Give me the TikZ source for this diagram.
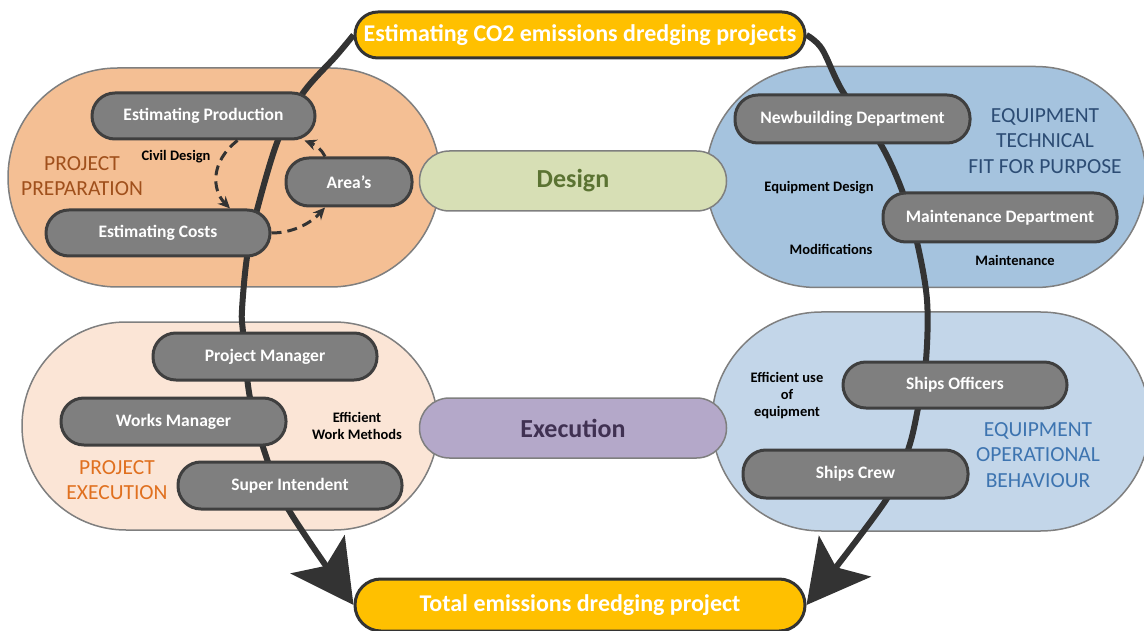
\documentclass[tikz,border=0pt]{standalone}
\usepackage{fontspec}
\setmainfont{Carlito}
\usetikzlibrary{arrows.meta}
\pgfdeclarelayer{bg}
\pgfdeclarelayer{mid}
\pgfsetlayers{bg,mid,main}

\definecolor{goldfill}{HTML}{FFC000}
\definecolor{prepfill}{HTML}{F4BF94}
\definecolor{techfill}{HTML}{A5C3DE}
\definecolor{execfill}{HTML}{FBE5D6}
\definecolor{operfill}{HTML}{C3D6E9}
\definecolor{designfill}{HTML}{D7DFB5}
\definecolor{exfill}{HTML}{B4A8C9}
\definecolor{rolefill}{HTML}{7F7F7F}
\definecolor{roleline}{HTML}{3F3F3F}
\definecolor{flow}{HTML}{333333}
\definecolor{zoneline}{HTML}{7F7F7F}
\definecolor{preptext}{HTML}{A0501C}
\definecolor{exectext}{HTML}{E0701F}
\definecolor{techtext}{HTML}{2C4C74}
\definecolor{opertext}{HTML}{3D74B0}
\definecolor{designtext}{HTML}{5B7332}
\definecolor{extext}{HTML}{403152}

\tikzset{
  zone/.style={rectangle, draw=zoneline, line width=1.5pt, inner sep=0pt},
  role/.style={rectangle, rounded corners=22.9pt, fill=rolefill, draw=roleline,
    line width=3pt, text=white, inner sep=0pt, minimum height=46pt,
    font=\bfseries\fontsize{17.5}{20}\selectfont},
  headline/.style={rectangle, rounded corners=22.9pt, fill=goldfill, draw=flow,
    line width=3pt, text=white, inner sep=0pt, minimum height=46pt,
    minimum width=450pt, font=\bfseries\fontsize{24}{28}\selectfont},
  phase/.style={rectangle, rounded corners=29.9pt, draw=zoneline, line width=1.5pt,
    inner sep=0pt, minimum width=307pt, minimum height=60pt,
    font=\bfseries\fontsize{26}{30}\selectfont},
  note/.style={align=center, text=black, inner sep=0pt,
    font=\bfseries\fontsize{14.5}{17}\selectfont},
  zonetitle/.style={align=center, inner sep=0pt,
    font=\fontsize{21.5}{25.5}\selectfont},
  flowline/.style={draw=flow, line width=6pt,
    -{Stealth[length=62pt, width=66pt, inset=14pt]}},
  dasharrow/.style={draw=flow, line width=3pt, dash pattern=on 10pt off 6pt,
    -{Stealth[length=12pt, width=11pt]}}
}

\begin{document}
\begin{tikzpicture}[x=1pt, y=-1pt]
\useasboundingbox (0,0) rectangle (1144,631);

% four working areas
\begin{pgfonlayer}{bg}
  \node[zone, fill=prepfill, rounded corners=109.4pt, minimum width=432pt, minimum height=219pt] (prep) at (224,177.5) {};
  \node[zone, fill=techfill, rounded corners=110.4pt, minimum width=440pt, minimum height=221pt] (tech) at (926,177) {};
  \node[zone, fill=execfill, rounded corners=103.9pt, minimum width=416pt, minimum height=208pt] (exec) at (230,426) {};
  \node[zone, fill=operfill, rounded corners=109.4pt, minimum width=438pt, minimum height=219pt] (oper) at (931,421.5) {};
  \node[phase, fill=designfill, text=designtext] (design) at (573,181) {Design};
  \node[phase, fill=exfill, text=extext] (execution) at (573,428) {Execution};
\end{pgfonlayer}

% start and end
\node[headline] (start) at (580,35) {Estimating CO2 emissions dredging projects};
\node[headline, minimum height=52pt, rounded corners=25.9pt] (total) at (580,605) {Total emissions dredging project};

% roles
\node[role, minimum width=223pt] (prod) at (203.5,116) {Estimating Production};
\node[role, minimum width=126pt, minimum height=48pt] (area) at (349,182) {Area’s};
\node[role, minimum width=224pt] (cost) at (158,233) {Estimating Costs};
\node[role, minimum width=235pt, minimum height=48pt] (newb) at (852.5,119) {Newbuilding Department};
\node[role, minimum width=234pt, minimum height=49pt] (maint) at (1000,217.5) {Maintenance Department};
\node[role, minimum width=224pt, minimum height=47pt] (pm) at (265,356.5) {Project Manager};
\node[role, minimum width=225pt, minimum height=47pt] (wm) at (173.5,421.5) {Works Manager};
\node[role, minimum width=224pt, minimum height=47pt] (si) at (290,485.5) {Super Intendent};
\node[role, minimum width=224pt] (so) at (955,385) {Ships Officers};
\node[role, minimum width=225pt, minimum height=48pt] (crew) at (855.5,474) {Ships Crew};

% main flow from estimate to total
\begin{pgfonlayer}{mid}
  \draw[flowline] plot[smooth, tension=0.55] coordinates {
    (start.west) (336,56) (303,93) (278,140) (257,210) (247,257) (242,310)
    (243,332) (250,398) (268,462) (290,512) (total.west)};
  \draw[flowline] plot[smooth, tension=0.55] coordinates {
    (start.east) (822,49) (843,92) (880,143) (903,193) (917,242) (927,300)
    (926,360) (918,408) (908,450) (886,500) (total.east)};
\end{pgfonlayer}

% preparation loop
\draw[dasharrow] ([xshift=34pt]prod.south) .. controls (210,162) and (212,190) .. ([xshift=72pt]cost.north);
\draw[dasharrow] (cost.east) .. controls (292,233) and (310,224) .. ([xshift=-24pt]area.south);
\draw[dasharrow] ([xshift=-24pt]area.north) .. controls (322,150) and (316,145) .. ([xshift=101pt]prod.south);

% area titles
\node[zonetitle, text=preptext] (preplabel) at (82,176) {PROJECT\\PREPARATION};
\node[zonetitle, text=techtext] (techlabel) at (1045,141) {EQUIPMENT\\TECHNICAL\\FIT FOR PURPOSE};
\node[zonetitle, text=exectext] (execlabel) at (117,480) {PROJECT\\EXECUTION};
\node[zonetitle, text=opertext] (operlabel) at (1038,455) {EQUIPMENT\\OPERATIONAL\\BEHAVIOUR};

% notes
\node[note] (civil) at (176,157) {Civil Design};
\node[note] (eqd) at (819,188) {Equipment Design};
\node[note] (mods) at (831,249) {Modifications};
\node[note] (maintn) at (1015,260) {Maintenance};
\node[note] (ewm) at (357,425.5) {Efficient\\Work Methods};
\node[note] (eue) at (787,396) {Efficient use\\of\\equipment};
\end{tikzpicture}
\end{document}
